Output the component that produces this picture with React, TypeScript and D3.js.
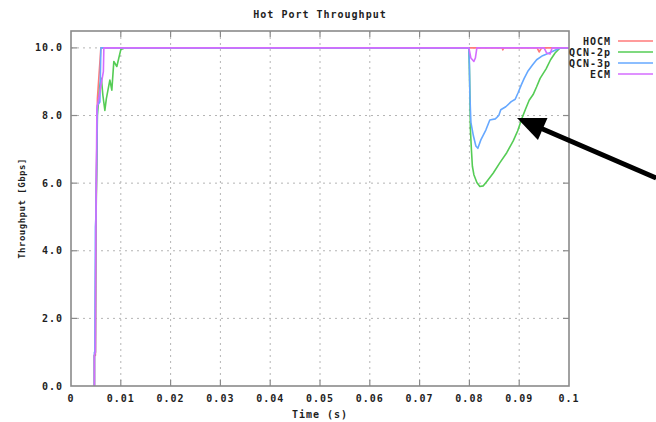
import React from "react";
import * as d3 from "d3";

// series values: [time (s), throughput (Gbps)]
const hocm: [number, number][] = [
  [0.0046, 0], [0.0047, 0], [0.0047, 0.9], [0.0049, 0.9], [0.005, 4.8], [0.0053, 8.5],
  [0.006, 10], [0.0866, 10], [0.0867, 9.94], [0.0869, 10], [0.0936, 10], [0.094, 9.88],
  [0.0945, 10], [0.1, 10],
];

const qcn2p: [number, number][] = [
  [0.0046, 0], [0.0047, 0], [0.0047, 0.9], [0.0049, 1.0], [0.005, 4.6], [0.0053, 8.0],
  [0.0058, 8.9], [0.0061, 9.1], [0.0064, 8.6], [0.0068, 8.15], [0.0071, 8.5], [0.0078, 9.05],
  [0.0082, 8.75], [0.0086, 9.6], [0.0092, 9.45], [0.01, 9.95], [0.0108, 10],
  [0.0799, 10], [0.08, 9.4], [0.0801, 8.6], [0.0802, 7.6], [0.0804, 7.0], [0.0806, 6.5],
  [0.0809, 6.25], [0.0815, 6.02], [0.0821, 5.9], [0.0828, 5.92], [0.0835, 6.05],
  [0.0848, 6.3], [0.0861, 6.6], [0.0875, 6.9], [0.0888, 7.25], [0.0897, 7.55],
  [0.0905, 7.9], [0.0913, 8.2], [0.092, 8.45], [0.0928, 8.62], [0.0935, 8.85],
  [0.0942, 9.1], [0.0954, 9.38], [0.0963, 9.65], [0.0972, 9.85], [0.0982, 10], [0.1, 10],
];

const qcn3p: [number, number][] = [
  [0.0046, 0], [0.0047, 0], [0.0047, 1.0], [0.0048, 1.0], [0.0049, 4.7], [0.005, 5.0],
  [0.0053, 8.3], [0.0058, 8.4], [0.006, 10], [0.0799, 10], [0.08, 9.5], [0.0801, 8.6],
  [0.0803, 7.8], [0.0808, 7.4], [0.0813, 7.1], [0.0817, 7.03], [0.0823, 7.28],
  [0.0833, 7.57], [0.0841, 7.87], [0.0852, 7.9], [0.0859, 8.0], [0.0863, 8.17],
  [0.0873, 8.26], [0.0884, 8.41], [0.0892, 8.48], [0.0898, 8.68], [0.0904, 8.9],
  [0.091, 9.1], [0.0917, 9.3], [0.0927, 9.5], [0.0935, 9.65], [0.0947, 9.77],
  [0.096, 9.85], [0.0973, 9.94], [0.0982, 10], [0.1, 10],
];

const ecm: [number, number][] = [
  [0.0046, 0], [0.0047, 0], [0.0047, 0.9], [0.0049, 1.0], [0.005, 4.6], [0.0052, 8.2],
  [0.0065, 9.3], [0.0066, 10], [0.0799, 10], [0.0803, 9.7], [0.0809, 9.6], [0.0812, 9.7],
  [0.0815, 10], [0.095, 10], [0.0955, 9.85], [0.0962, 9.82], [0.0966, 10], [0.1, 10],
];

const seriesNames = ["HOCM", "QCN-2p", "QCN-3p", "ECM"];
const seriesData = [hocm, qcn2p, qcn3p, ecm];
const seriesColors = ["#ff7a7a", "#55cc55", "#66a8ff", "#d46cff"];

const xTicks = [0, 0.01, 0.02, 0.03, 0.04, 0.05, 0.06, 0.07, 0.08, 0.09, 0.1];
const xTickLabels = ["0", "0.01", "0.02", "0.03", "0.04", "0.05", "0.06", "0.07", "0.08", "0.09", "0.1"];
const yTicks = [0, 2, 4, 6, 8, 10];
const yTickLabels = ["0.0", "2.0", "4.0", "6.0", "8.0", "10.0"];

// annotation arrow (data coords): tail off the right edge, tip on the curves
const arrowTail: [number, number] = [0.1175, 6.15];
const arrowTip: [number, number] = [0.08956, 7.93];

const W = 656;
const H = 422;
const m = { left: 71, right: 569, top: 31, bottom: 386 };
const font = "'DejaVu Sans Mono', monospace";
const textFill = "#1e1e1e";

const App = () => {
  const x = d3.scaleLinear().domain([0, 0.1]).range([m.left, m.right]);
  const y = d3.scaleLinear().domain([0, 10.5]).range([m.bottom, m.top]);
  const line = d3
    .line<[number, number]>()
    .x((d) => x(d[0]))
    .y((d) => y(d[1]));

  // arrow head geometry
  const tx = x(arrowTip[0]);
  const ty = y(arrowTip[1]);
  const sx = x(arrowTail[0]);
  const sy = y(arrowTail[1]);
  const len = Math.hypot(sx - tx, sy - ty);
  const ux = (sx - tx) / len;
  const uy = (sy - ty) / len;
  const headLen = 28;
  const headHalf = 12;
  const bx = tx + ux * headLen;
  const by = ty + uy * headLen;
  const head = [
    [tx, ty],
    [bx - uy * headHalf, by + ux * headHalf],
    [bx + uy * headHalf, by - ux * headHalf],
  ];

  return (
    <svg
      width={W}
      height={H}
      style={{ position: "absolute", left: 0, top: 0, background: "#fff" }}
    >
      <defs>
        <clipPath id="plot">
          <rect x={m.left} y={m.top} width={m.right - m.left} height={m.bottom - m.top} />
        </clipPath>
      </defs>

      {/* grid */}
      {xTicks.slice(1, -1).map((t) => (
        <line key={"gx" + t} x1={x(t)} x2={x(t)} y1={m.top} y2={m.bottom}
          stroke="#b4b4b4" strokeWidth={1} strokeDasharray="2 4" />
      ))}
      {yTicks.slice(1).map((t) => (
        <line key={"gy" + t} x1={m.left} x2={m.right} y1={y(t)} y2={y(t)}
          stroke="#b4b4b4" strokeWidth={1} strokeDasharray="2 4" />
      ))}

      {/* ticks, inside on all sides */}
      {xTicks.slice(1, -1).map((t) => (
        <g key={"tx" + t} stroke="#8a8a8a" strokeWidth={1.2}>
          <line x1={x(t)} x2={x(t)} y1={m.bottom} y2={m.bottom - 6} />
          <line x1={x(t)} x2={x(t)} y1={m.top} y2={m.top + 6} />
        </g>
      ))}
      {yTicks.slice(1).map((t) => (
        <g key={"ty" + t} stroke="#8a8a8a" strokeWidth={1.2}>
          <line x1={m.left} x2={m.left + 6} y1={y(t)} y2={y(t)} />
          <line x1={m.right} x2={m.right - 6} y1={y(t)} y2={y(t)} />
        </g>
      ))}

      {/* series */}
      <g clipPath="url(#plot)" fill="none" strokeWidth={1.6} strokeLinejoin="round">
        {seriesData.map((d, i) => (
          <path key={seriesNames[i]} d={line(d) ?? ""} stroke={seriesColors[i]} />
        ))}
      </g>

      {/* frame */}
      <rect x={m.left} y={m.top} width={m.right - m.left} height={m.bottom - m.top}
        fill="none" stroke="#8a8a8a" strokeWidth={1.6} />

      {/* tick labels */}
      <g fontFamily={font} fontWeight="bold" fontSize={10} fill={textFill} letterSpacing={1}>
        {xTicks.map((t, i) => (
          <text key={"lx" + t} x={x(t)} y={402} textAnchor="middle">{xTickLabels[i]}</text>
        ))}
        {yTicks.map((t, i) => (
          <text key={"ly" + t} x={63} y={y(t) + 3.5} textAnchor="end">{yTickLabels[i]}</text>
        ))}
      </g>

      {/* titles */}
      <g fontFamily={font} fontWeight="bold" fill={textFill}>
        <text x={(m.left + m.right) / 2} y={18} fontSize={10} letterSpacing={1} textAnchor="middle">
          Hot Port Throughput
        </text>
        <text x={(m.left + m.right) / 2} y={418} fontSize={10} letterSpacing={1} textAnchor="middle">
          Time (s)
        </text>
        <text transform={`translate(25,${(m.top + m.bottom) / 2}) rotate(-90)`}
          fontSize={9} letterSpacing={0.5} textAnchor="middle">
          Throughput [Gbps]
        </text>
      </g>

      {/* legend */}
      <g fontFamily={font} fontWeight="bold" fontSize={10} fill={textFill} letterSpacing={1}>
        {seriesNames.map((n, i) => (
          <g key={"lg" + n} transform={`translate(0,${41 + i * 11})`}>
            <text x={611} y={3.5} textAnchor="end">{n}</text>
            <line x1={618} x2={653} y1={0} y2={0} stroke={seriesColors[i]} strokeWidth={1.6} />
          </g>
        ))}
      </g>

      {/* annotation arrow */}
      <line x1={sx} y1={sy} x2={bx - ux * 2} y2={by - uy * 2} stroke="#000" strokeWidth={5} />
      <polygon points={head.map((p) => p.join(",")).join(" ")} fill="#000" />
    </svg>
  );
};

export default App;
